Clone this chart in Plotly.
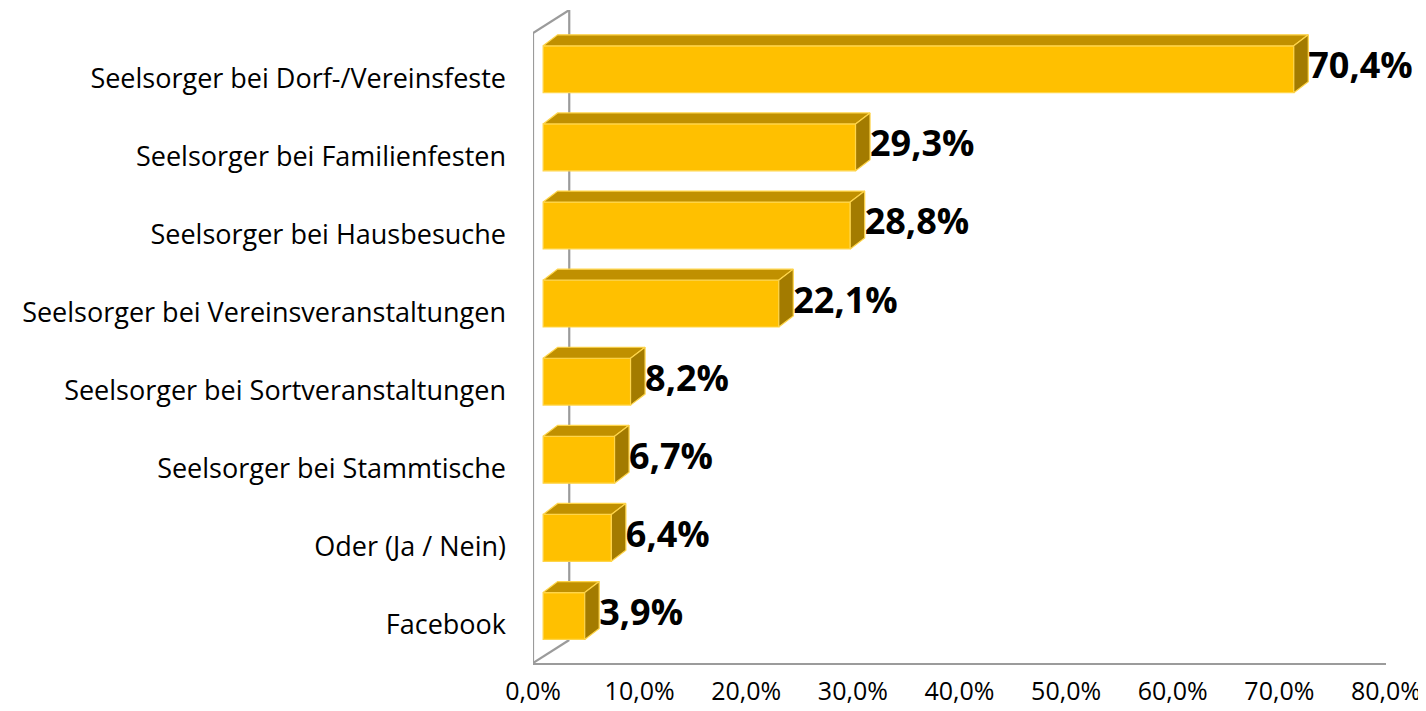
import plotly.graph_objects as go

# ---- data ----
categories = [
    "Facebook",
    "Oder (Ja / Nein)",
    "Seelsorger bei Stammtische",
    "Seelsorger bei Sortveranstaltungen",
    "Seelsorger bei Vereinsveranstaltungen",
    "Seelsorger bei Hausbesuche",
    "Seelsorger bei Familienfesten",
    "Seelsorger bei Dorf-/Vereinsfeste",
]
values = [3.9, 6.4, 6.7, 8.2, 22.1, 28.8, 29.3, 70.4]
value_labels = ["3,9%", "6,4%", "6,7%", "8,2%", "22,1%", "28,8%", "29,3%", "70,4%"]
tick_values = [0, 10, 20, 30, 40, 50, 60, 70, 80]
tick_labels = ["0,0%", "10,0%", "20,0%", "30,0%", "40,0%", "50,0%", "60,0%", "70,0%", "80,0%"]

# ---- 3D projection parameters (data units) ----
BAR_BASE = 0.95     # bars sit behind front plane
BAR_DX = 1.36       # bar depth, x direction (%)
BAR_DY = 0.141      # bar depth, y direction (category units)
BAR_LIFT = 0.115    # bar centre lifted relative to category label
BAR_H = 0.60
WALL_DX = 3.40
WALL_DY = 0.294
Y_MIN, Y_MAX = -0.487, 7.874
X_MIN, X_MAX = 0, 80

FRONT = "#FFC000"
TOP = "#C09000"
SIDE = "#A37B00"
EDGE = "#FFD54A"
WALL = "#9B9B9B"

pos = list(range(len(categories)))
centers = [p + BAR_LIFT for p in pos]

fig = go.Figure()

# top faces
tx, ty = [], []
for c, v in zip(centers, values):
    yt = c + BAR_H / 2
    tx += [BAR_BASE, BAR_BASE + v, BAR_BASE + v + BAR_DX, BAR_BASE + BAR_DX, BAR_BASE, None]
    ty += [yt, yt, yt + BAR_DY, yt + BAR_DY, yt, None]
fig.add_trace(go.Scatter(x=tx, y=ty, mode="lines", fill="toself", fillcolor=TOP,
                         line=dict(color=EDGE, width=1.2), hoverinfo="skip", showlegend=False))

# side faces
sx, sy = [], []
for c, v in zip(centers, values):
    yt = c + BAR_H / 2
    yb = c - BAR_H / 2
    xe = BAR_BASE + v
    sx += [xe, xe, xe + BAR_DX, xe + BAR_DX, xe, None]
    sy += [yb, yt, yt + BAR_DY, yb + BAR_DY, yb, None]
fig.add_trace(go.Scatter(x=sx, y=sy, mode="lines", fill="toself", fillcolor=SIDE,
                         line=dict(color=EDGE, width=1.2), hoverinfo="skip", showlegend=False))

# front faces
fig.add_trace(go.Bar(x=values, y=centers, base=BAR_BASE, orientation="h", width=BAR_H,
                     marker=dict(color=FRONT, line=dict(color=EDGE, width=1.2)),
                     hoverinfo="skip", showlegend=False))

# data labels
fig.add_trace(go.Scatter(
    x=[BAR_BASE + v + BAR_DX for v in values], y=centers, mode="text",
    text=value_labels, textposition="middle right",
    textfont=dict(family="Open Sans", size=36, color="#000000", weight="bold"),
    hoverinfo="skip", showlegend=False, cliponaxis=False))

# walls / floor frame
line = dict(color=WALL, width=2.2)
shapes = [
    dict(type="line", xref="x", yref="y", x0=X_MIN, y0=Y_MIN, x1=X_MIN, y1=Y_MAX - WALL_DY, line=line, layer="below"),
    dict(type="line", xref="x", yref="y", x0=X_MIN, y0=Y_MAX - WALL_DY, x1=X_MIN + WALL_DX, y1=Y_MAX, line=line, layer="below"),
    dict(type="line", xref="x", yref="y", x0=X_MIN + WALL_DX, y0=Y_MAX, x1=X_MIN + WALL_DX, y1=Y_MIN + WALL_DY, line=line, layer="below"),
    dict(type="line", xref="x", yref="y", x0=X_MIN, y0=Y_MIN, x1=X_MIN + WALL_DX, y1=Y_MIN + WALL_DY, line=line, layer="below"),
]

# page body has an 8px default margin, so the figure is sized to fit the window
fig.update_layout(
    width=1418, height=703,
    margin=dict(l=525, r=40, t=2, b=48),
    paper_bgcolor="white", plot_bgcolor="white",
    shapes=shapes,
    font=dict(family="Open Sans", color="#000000"),
    xaxis=dict(range=[X_MIN, X_MAX], tickvals=tick_values, ticktext=tick_labels,
               showgrid=False, zeroline=False, showline=True, linecolor=WALL, linewidth=2.2,
               ticks="", ticklabelstandoff=5, automargin=False,
               tickfont=dict(size=25, color="#000000")),
    yaxis=dict(range=[Y_MIN, Y_MAX], tickvals=pos, ticktext=categories,
               showgrid=False, zeroline=False, showline=False, ticks="", automargin=False,
               ticklabelstandoff=26, tickfont=dict(size=27, color="#000000")),
)

fig.write_html("out.html")
